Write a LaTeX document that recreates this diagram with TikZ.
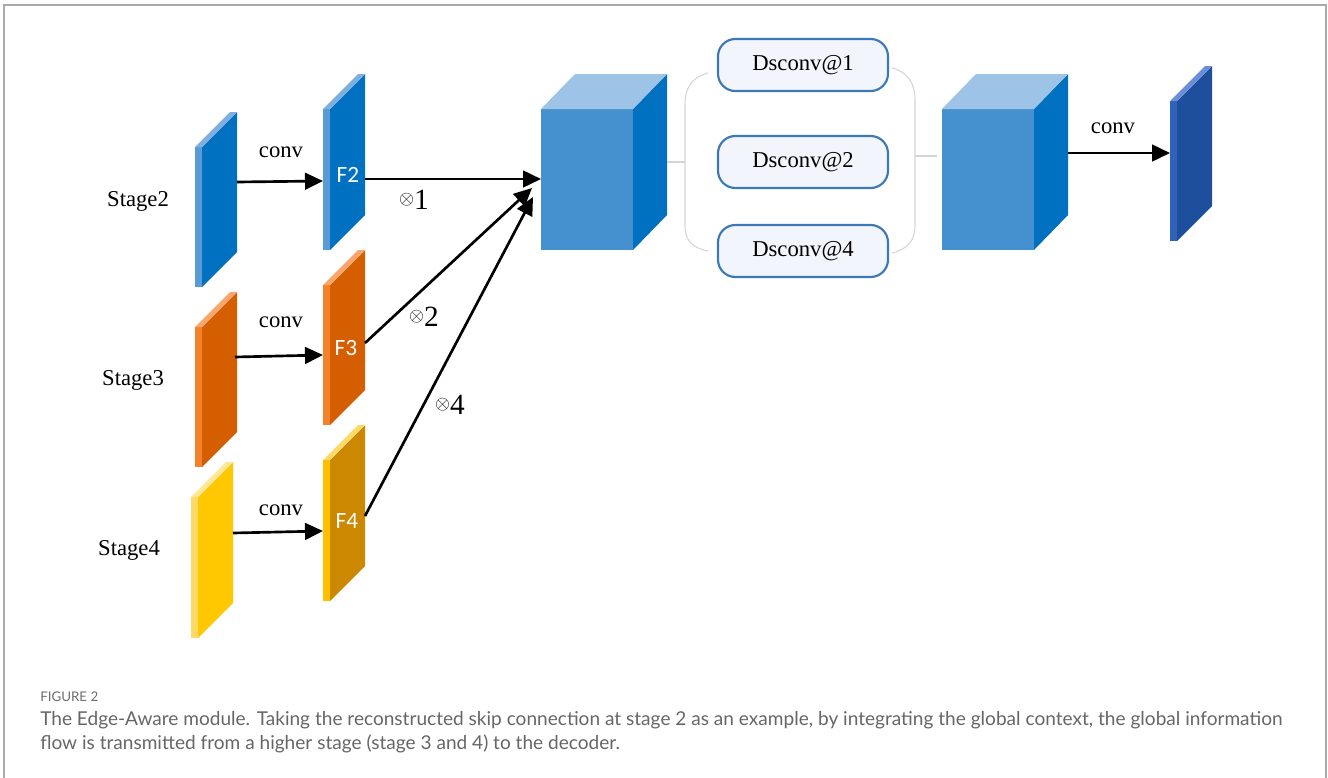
\documentclass[tikz,border=0pt]{standalone}
\usepackage{fontspec}
\setmainfont{Liberation Serif}
\newfontfamily\fcal{Carlito}
\newfontfamily\fcap{Lato}
\usetikzlibrary{arrows.meta}
\definecolor{bfront}{HTML}{5B9BD5}
\definecolor{bside}{HTML}{0070C0}
\definecolor{btop}{HTML}{7DB0E0}
\definecolor{ofront}{HTML}{F4812C}
\definecolor{oside}{HTML}{D55E00}
\definecolor{otop}{HTML}{F9A66C}
\definecolor{yfront}{HTML}{FFD966}
\definecolor{yside}{HTML}{FFC800}
\definecolor{ytop}{HTML}{FFE699}
\definecolor{gfront}{HTML}{FFC000}
\definecolor{gside}{HTML}{CC8800}
\definecolor{gtop}{HTML}{FFD966}
\definecolor{dfront}{HTML}{2F62B8}
\definecolor{dside}{HTML}{1E4F9C}
\definecolor{dtop}{HTML}{6A8FD6}
\definecolor{cfront}{HTML}{4590CF}
\definecolor{cside}{HTML}{0070C0}
\definecolor{ctop}{HTML}{9DC3E6}
\definecolor{dsborder}{HTML}{3A78B8}
\definecolor{dsfill}{HTML}{F3F5FC}
\definecolor{brk}{HTML}{D4D4D4}
\definecolor{frame}{HTML}{AAAAAA}
\definecolor{captxt}{HTML}{666666}
\newcommand{\myslab}[6]{%
  \fill[#5] (#1+7,#2) -- ++(35,-35) -- ++(0,#3-#2) -- (#1+7,#3) -- cycle;
  \fill[#4] (#1,#2) rectangle (#1+7,#3);
  \fill[#6] (#1,#2) -- ++(35,-35) -- ++(7,0) -- (#1+7,#2) -- cycle;
}
\newcommand{\mycube}[1]{%
  \fill[cfront] (#1,109) rectangle (#1+92,250);
  \fill[cside] (#1+92,109) -- (#1+126,74) -- (#1+126,215) -- (#1+92,250) -- cycle;
  \fill[ctop] (#1,109) -- (#1+34,74) -- (#1+126,74) -- (#1+92,109) -- cycle;
}
\tikzset{
  arr/.style={line width=2pt,-{Triangle[length=13.5pt,width=12.5pt]}},
  lbl/.style={font=\fontsize{17}{20}\selectfont,inner sep=0pt},
  flbl/.style={font=\fcal\fontsize{17.5}{20}\selectfont,text=white,inner sep=0pt},
  mul/.style={font=\fontsize{22}{24}\selectfont,inner sep=0pt},
  dsbox/.style={draw=dsborder,line width=1.6pt,fill=dsfill,rounded corners=13pt,
    minimum width=127.5pt,minimum height=39pt,inner sep=0pt,font=\fontsize{17}{20}\selectfont},
  bracket/.style={draw=brk,line width=0.8pt},
  capstyle/.style={anchor=west,inner sep=0pt,text=captxt,font=\fcap\fontsize{14.3}{16}\selectfont},
}
\begin{document}
\begin{tikzpicture}[x=0.75pt,y=-0.75pt]
\useasboundingbox (0,0) rectangle (1328,778);
% frame
\draw[frame,line width=1.5pt] (4,778) -- (4,5) -- (1326,5) -- (1326,778);
% slabs
\myslab{195}{147}{287}{bfront}{bside}{btop}
\myslab{323}{109}{250}{bfront}{bside}{btop}
\myslab{195}{327}{467}{ofront}{oside}{otop}
\myslab{323}{285}{425}{ofront}{oside}{otop}
\myslab{191}{497}{638}{yfront}{yside}{ytop}
\myslab{323}{460}{601}{gfront}{gside}{gtop}
\myslab{1170}{101}{241}{dfront}{dside}{dtop}
% cubes
\mycube{541}
\mycube{942}
% labels on slabs
\node[flbl] (F2) at (348,175) {F2};
\node[flbl] (F3) at (346,348) {F3};
\node[flbl] (F4) at (347,521) {F4};
% stage labels
\node[lbl] (st2) at (138,201) {Stage2};
\node[lbl] (st3) at (133,380) {Stage3};
\node[lbl] (st4) at (129,550) {Stage4};
% conv labels
\node[lbl] (cv2) at (281,152) {conv};
\node[lbl] (cv3) at (281,322) {conv};
\node[lbl] (cv4) at (281,510) {conv};
\node[lbl] (cv5) at (1113,128) {conv};
% dsconv boxes
\node[dsbox] (d1) at (803,65) {Dsconv@1};
\node[dsbox] (d2) at (803,162) {Dsconv@2};
\node[dsbox] (d3) at (803,251) {Dsconv@4};
% brackets
\draw[bracket] (708,73) .. controls (692,77) and (685,88) .. (685,104) -- (685,226) .. controls (685,240) and (692,248) .. (708,251);
\draw[bracket] (892,68) .. controls (908,72) and (915,84) .. (915,100) -- (915,226) .. controls (915,240) and (908,249) .. (892,253);
\coordinate (c1r) at (667,162);
\coordinate (bl) at (685,162);
\coordinate (br) at (915,156);
\coordinate (c2l) at (937,156);
\draw[bracket] (c1r) -- (bl);
\draw[bracket] (br) -- (c2l);
% arrow coordinates
\coordinate (s2o) at (237,182);
\coordinate (f2i) at (323,181);
\coordinate (f2o) at (365,179);
\coordinate (c1a) at (541,179);
\coordinate (s3o) at (235,357);
\coordinate (f3i) at (323,355);
\coordinate (f3o) at (365,343);
\coordinate (c1b) at (532,188);
\coordinate (s4o) at (233,533);
\coordinate (f4i) at (323,531);
\coordinate (f4o) at (365,516);
\coordinate (c1c) at (533,197);
\coordinate (c2o) at (1068,153);
\coordinate (oi) at (1170,153);
\draw[arr] (s2o) -- (f2i);
\draw[arr] (s3o) -- (f3i);
\draw[arr] (s4o) -- (f4i);
\draw[arr] (f2o) -- (c1a);
\draw[arr] (f3o) -- (c1b);
\draw[arr] (f4o) -- (c1c);
\draw[arr] (c2o) -- (oi);
% multipliers
\node[mul] (m1) at (414,200) {\raisebox{4pt}{\fontsize{14}{16}\selectfont$\otimes$}1};
\node[mul] (m2) at (424,317) {\raisebox{4pt}{\fontsize{14}{16}\selectfont$\otimes$}2};
\node[mul] (m4) at (450,405) {\raisebox{4pt}{\fontsize{14}{16}\selectfont$\otimes$}4};
% caption
\node[anchor=west,inner sep=0pt,text=gray!85!black,font=\fcap\fontsize{10}{12}\selectfont] (fig) at (40,697) {FIGURE 2};
\node[capstyle] (cap1) at (40,720) {The Edge-Aware module. Taking the reconstructed skip connection at stage 2 as an example, by integrating the global context, the global information};
\node[capstyle] (cap2) at (40,744) {flow is transmitted from a higher stage (stage 3 and 4) to the decoder.};
\end{tikzpicture}
\end{document}
